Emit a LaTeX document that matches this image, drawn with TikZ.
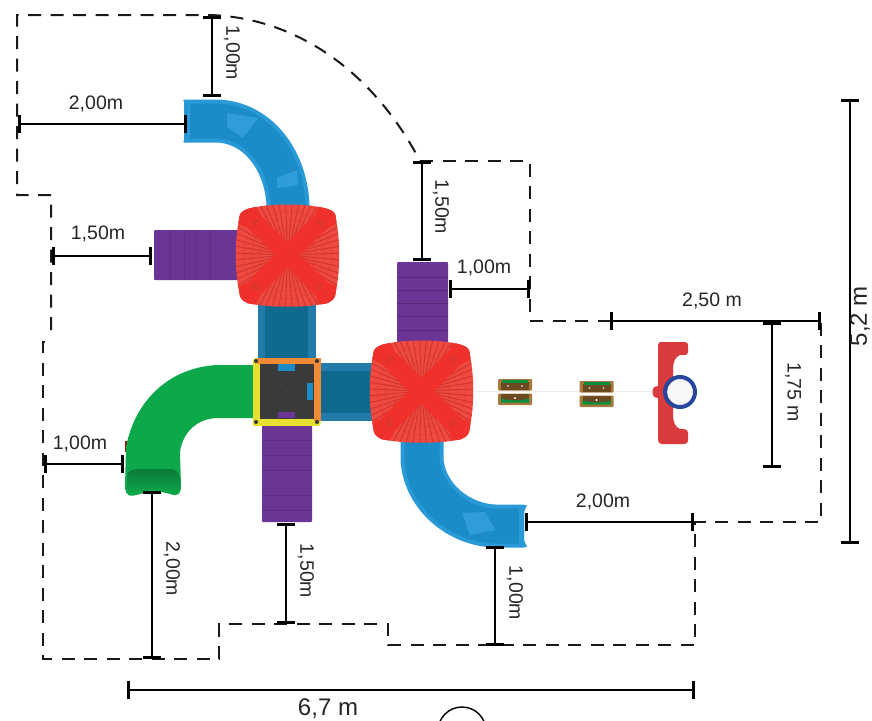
\documentclass[tikz,border=0pt]{standalone}
\usepackage{fontspec}
\setmainfont{Liberation Sans}
\usetikzlibrary{arrows.meta}
\definecolor{slideblue}{HTML}{1C8CC9}
\definecolor{sliderim}{HTML}{2A9AD6}
\definecolor{slidelight}{HTML}{2F9DD8}
\definecolor{tunnelblue}{HTML}{0F6A8E}
\definecolor{roofred}{HTML}{F0302A}
\definecolor{roofbase}{HTML}{EE4A42}
\definecolor{roofrib}{HTML}{D2352F}
\definecolor{roofpad}{HTML}{D8352F}
\definecolor{deckpurple}{HTML}{6B3595}
\definecolor{tubegreen}{HTML}{0CA84A}
\definecolor{tubedark}{HTML}{0A7A3A}
\definecolor{frameorange}{HTML}{F08A35}
\definecolor{frameyellow}{HTML}{E8E02E}
\definecolor{floordark}{HTML}{3A3A3A}
\definecolor{brownseat}{HTML}{A67A3A}
\definecolor{seatdark}{HTML}{6B4A22}
\definecolor{riderred}{HTML}{D93A3C}
\definecolor{ringblue}{HTML}{27479C}
\tikzset{
 x=1pt,y=-1pt,
 barend/.tip={Bar[width=17.5pt,line width=3.2pt]},
 dim/.style={line width=2.1pt,black,barend-barend},
 bound/.style={line width=2pt,black!90,dash pattern=on 13pt off 9.5pt},
 lab/.style={font=\fontsize{19.5}{20}\selectfont,text=black!85,inner sep=0pt},
 vlab/.style={lab,rotate=-90},
 biglab/.style={font=\fontsize{24}{25}\selectfont,text=black!85,inner sep=0pt},
}
\newcommand{\roofoutline}{(-40,-46) .. controls (-20,-52) and (20,-52) .. (40,-46) .. controls (46,-44) and (48,-42) .. (48,-38) .. controls (53,-15) and (53,15) .. (48,38) .. controls (48,43) and (45,46) .. (40,48) .. controls (20,53) and (-20,53) .. (-40,48) .. controls (-45,46) and (-48,43) .. (-48,38) .. controls (-53,15) and (-53,-15) .. (-48,-38) .. controls (-48,-42) and (-45,-44) .. (-40,-46) -- cycle}
\newcommand{\roofshape}[2]{%
 \begin{scope}[shift={(#1,#2)}]
 \fill[roofbase] \roofoutline;
 \begin{scope}
 \clip \roofoutline;
 \foreach \a in {-44,-37,...,44}{
  \draw[roofrib,line width=1pt] (\a*.2,-10) -- (\a,-54);
  \draw[roofrib,line width=1pt] (\a*.2,10) -- (\a,54);
  \draw[roofrib,line width=1pt] (-10,\a*.2) -- (-54,\a);
  \draw[roofrib,line width=1pt] (10,\a*.2) -- (54,\a);
 }
 \foreach \r in {28,36,44}{
  \draw[roofrib,line width=.5pt,opacity=.5] (0,0) circle (\r pt);
 }
 \draw[roofred,line width=18pt] (-44,-44) -- (44,44) (44,-44) -- (-44,44);
 \foreach \sx in {-1,1}\foreach \sy in {-1,1}{
  \fill[roofred] (\sx*40,\sy*40) circle (12pt);
  \fill[roofpad] (\sx*31,\sy*31) circle (4.2pt);
  \fill[roofred] (\sx*30,\sy*30) circle (2.4pt);
 }
 \end{scope}
 \end{scope}}
\newcommand{\seat}[2]{%
 \begin{scope}[shift={(#1,#2)}]
 \fill[brownseat,rounded corners=1pt] (-17,-13) rectangle (17,-1.5);
 \fill[brownseat,rounded corners=1pt] (-17,1.5) rectangle (17,13);
 \fill[seatdark] (-14,-10) rectangle (14,-2);
 \fill[seatdark] (-14,2) rectangle (14,10);
 \fill[tubegreen!85!black] (-13,-12) rectangle (13,-9.5);
 \fill[tubegreen!85!black] (-14,6.5) .. controls (-5,9) and (5,9) .. (14,6.5) -- (14,10.5) -- (-14,10.5) -- cycle;
 \fill[black!25] (-7,-6) circle (1.2pt) (7,-6) circle (1.2pt);
 \fill[white] (0,6) circle (1.2pt);
 \end{scope}}
\begin{document}
\begin{tikzpicture}
\useasboundingbox (0,0) rectangle (872,720);
% faint rope line
\draw[black!7,line width=1pt] (474,391) -- (655,391);
% top-left slide
\draw[sliderim,line width=43pt] (184,121) -- (218,121) .. controls (258,123) and (286,160) .. (288,205) -- (288,225);
\draw[slideblue,line width=35pt] (186,121) -- (218,121) .. controls (258,123) and (286,160) .. (288,205) -- (288,225);
\fill[sliderim] (183,100) -- (190,100) -- (190,142) -- (183,142) -- (187,136) -- (187,106) -- cycle;
\fill[slidelight] (227,113) -- (258,118) -- (243,138) -- (227,127) -- cycle;
\fill[slidelight] (277,178) -- (297,170) -- (298,185) -- (277,188) -- cycle;
% tunnels
\fill[sliderim!80!black] (258,300) rectangle (316,362);
\fill[tunnelblue] (265,300) rectangle (308,362);
\fill[sliderim!80!black] (318,363) rectangle (380,421);
\fill[tunnelblue] (318,371) rectangle (380,413);
% decks
\fill[deckpurple,rounded corners=1pt] (154,230) rectangle (245,280);
\foreach \x in {170,184,196,210}{\draw[black!12!deckpurple,line width=.6pt] (\x,230) -- (\x,280);}
\fill[deckpurple,rounded corners=1pt] (397,262) rectangle (448,350);
\foreach \y in {277,290,303,316,330}{\draw[black!20!deckpurple,line width=.6pt] (397,\y) -- (448,\y);}
\fill[deckpurple,rounded corners=1pt] (262,420) rectangle (312,522);
\foreach \y in {440,455,470,495,510}{\draw[black!15!deckpurple,line width=.6pt] (262,\y) -- (312,\y);}
% green tube
\fill[red!70!black] (125,441) rectangle (128,452);
\fill[tubegreen] (254,365) -- (218,365) .. controls (170,367) and (135,400) .. (126,447) -- (125,487) .. controls (126,497) and (130,497) .. (140,494) .. controls (150,491) and (160,491) .. (170,494) .. controls (178,497) and (181,494) .. (181,486) -- (180,453) .. controls (182,432) and (198,418) .. (218,418) -- (254,418) -- cycle;
\shade[top color=tubedark,bottom color=tubegreen] (127,478) .. controls (127,471) and (131,469) .. (140,469) -- (168,469) .. controls (176,469) and (180,472) .. (180,480) -- (180,487) .. controls (179,494) and (175,494) .. (170,491) .. controls (160,489) and (150,489) .. (140,491) .. controls (131,494) and (127,492) .. (127,487) -- cycle;
% square frame
\fill[floordark] (256,361) rectangle (318,423);
\foreach \a in {0,1,2,3}{\draw[black!75,line width=.5pt] (260+\a*18,364) -- (287,392) (260+\a*18,419) -- (287,392);}
\fill[slideblue] (278,364) rectangle (295,371);
\fill[slideblue] (307,383) rectangle (313,400);
\fill[deckpurple] (278,412) rectangle (295,418);
\draw[frameyellow,line width=6.5pt,line cap=round] (256.5,361) -- (256.5,422.5) -- (317.5,422.5);
\draw[frameorange,line width=6.5pt] (256.5,361) -- (317.5,361) -- (317.5,421);
\foreach \x/\y in {256/361,317/361,256/422,317/422}{\fill[black!80] (\x,\y) circle (2pt);}
% lower right slide
\draw[sliderim,line width=43pt] (422,435) -- (422,460) .. controls (425,498) and (460,525) .. (495,526) -- (524,526);
\draw[slideblue,line width=35pt] (422,435) -- (422,460) .. controls (425,498) and (460,525) .. (495,526) -- (522,526);
\fill[sliderim] (519,505) -- (527,505) -- (524,512) -- (524,540) -- (527,547) -- (519,547) -- cycle;
\fill[slidelight] (462,513) -- (485,512) -- (495,530) -- (470,535) -- cycle;
% roofs
\roofshape{287.5}{255}
\roofshape{421.5}{391}
% seats
\seat{515}{392}
\seat{596.5}{394}
% spring rider
\fill[riderred] (658,345) .. controls (658,342) and (660,342) .. (662,342) -- (685,342) .. controls (688,342) and (688,344) .. (688,346) -- (688,352) .. controls (688,355) and (686,355) .. (684,355) -- (680,355) .. controls (675,357) and (673,362) .. (673,370) -- (673,414) .. controls (673,422) and (675,427) .. (680,429) -- (684,429) .. controls (687,429) and (688,431) .. (688,433) -- (688,441) .. controls (688,443) and (686,444) .. (684,444) -- (662,444) .. controls (660,444) and (658,443) .. (658,440) -- (658,398) -- (654,397) .. controls (652,394) and (652,390) .. (654,387) -- (658,386) -- cycle;
\fill[black!3] (680,392) circle (13pt);
\draw[ringblue,line width=4pt] (680,392) circle (15pt);
% boundary
\draw[bound] (420,161) -- (530,161) -- (530,321) -- (821,321) -- (821,522) -- (695,522) -- (695,645) -- (388,645) -- (388,624) -- (219,624) -- (219,659) -- (43,659) -- (43,342) -- (52,342);
\draw[bound] (51,330) -- (51,195) -- (17,195) -- (17,15) -- (210,15) .. controls (300,18) and (375,75) .. (420,161);
% dimensions
\coordinate (a1) at (212,16); \coordinate (a2) at (212,97);
\draw[dim] (a1) -- (a2);
\coordinate (b1) at (18,124); \coordinate (b2) at (187,124);
\draw[dim] (b1) -- (b2);
\coordinate (c1) at (52,256); \coordinate (c2) at (152,256);
\draw[dim] (c1) -- (c2);
\coordinate (d1) at (422,161); \coordinate (d2) at (422,261);
\draw[dim] (d1) -- (d2);
\coordinate (e1) at (449,289); \coordinate (e2) at (530,289);
\draw[dim] (e1) -- (e2);
\coordinate (f1) at (610,321); \coordinate (f2) at (821,321);
\draw[dim] (f1) -- (f2);
\coordinate (g1) at (772,322); \coordinate (g2) at (772,468);
\draw[dim] (g1) -- (g2);
\coordinate (h1) at (850,99); \coordinate (h2) at (850,544);
\draw[dim] (h1) -- (h2);
\coordinate (i1) at (525,522); \coordinate (i2) at (694,522);
\draw[dim] (i1) -- (i2);
\coordinate (j1) at (495,546); \coordinate (j2) at (495,646);
\draw[dim] (j1) -- (j2);
\coordinate (k1) at (286,523); \coordinate (k2) at (286,624);
\draw[dim] (k1) -- (k2);
\coordinate (l1) at (152,491); \coordinate (l2) at (152,659);
\draw[dim] (l1) -- (l2);
\coordinate (m1) at (44,464); \coordinate (m2) at (124,464);
\draw[dim] (m1) -- (m2);
\coordinate (n1) at (127,690); \coordinate (n2) at (695,690);
\draw[dim] (n1) -- (n2);
% labels
\node[vlab] (la) at (232,53) {1,00m};
\node[lab] (lb) at (96,104) {2,00m};
\node[lab] (lc) at (98,234) {1,50m};
\node[vlab] (ld) at (441,207) {1,50m};
\node[lab] (le) at (484,268) {1,00m};
\node[lab] (lf) at (712,301) {2,50 m};
\node[vlab] (lg) at (793,392) {1,75 m};
\node[biglab,rotate=90] (lh) at (860,316) {5,2 m};
\node[lab] (li) at (603,502) {2,00m};
\node[vlab] (lj) at (515,593) {1,00m};
\node[vlab] (lk) at (306,571) {1,50m};
\node[vlab] (ll) at (172,569) {2,00m};
\node[lab] (lm) at (80,444) {1,00m};
\node[biglab] (ln) at (328,709) {6,7 m};
\draw[black,line width=1.4pt] (462,731) circle (24pt);
\end{tikzpicture}
\end{document}
